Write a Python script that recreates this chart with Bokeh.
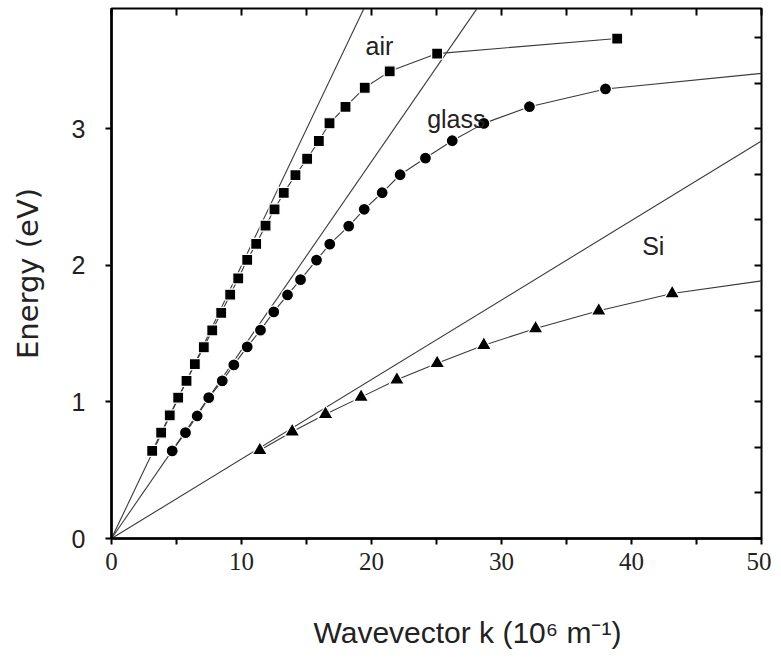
from bokeh.plotting import figure
from bokeh.models import (Range1d, LinearAxis, FixedTicker, CustomJSTickFormatter,
                          ColumnDataSource, Title)
from bokeh.core.properties import value
from bokeh.embed import file_html
from bokeh.resources import INLINE

# ---------------- data ----------------
# surface plasmon dispersion, metal / air (squares)
air_k = [3.13, 3.82, 4.48, 5.13, 5.77, 6.41, 7.10, 7.75, 8.44, 9.13, 9.75, 10.44,
         11.13, 11.85, 12.54, 13.25, 14.15, 15.05, 15.95, 16.77, 18.0, 19.48, 21.4,
         25.05, 38.9]
air_E = [0.641, 0.775, 0.902, 1.031, 1.154, 1.276, 1.40, 1.523, 1.652, 1.785, 1.904,
         2.04, 2.157, 2.29, 2.41, 2.53, 2.66, 2.78, 2.91, 3.04, 3.16, 3.30, 3.42,
         3.55, 3.66]

# metal / glass (circles)
glass_k = [4.67, 5.69, 6.59, 7.48, 8.52, 9.41, 10.44, 11.46, 12.48, 13.54, 14.54,
           15.77, 16.79, 18.25, 19.44, 20.82, 22.2, 24.15, 26.21, 28.64, 32.15, 38.0]
glass_E = [0.641, 0.775, 0.897, 1.031, 1.154, 1.271, 1.403, 1.525, 1.659, 1.783,
           1.895, 2.038, 2.155, 2.287, 2.41, 2.531, 2.663, 2.785, 2.912, 3.039,
           3.161, 3.291]
glass_tail_k = [38.0, 50.0]
glass_tail_E = [3.291, 3.405]

# metal / Si (triangles)
si_k = [11.41, 13.9, 16.46, 19.2, 21.95, 25.05, 28.64, 32.62, 37.48, 43.13]
si_E = [0.646, 0.782, 0.910, 1.035, 1.162, 1.283, 1.415, 1.537, 1.667, 1.793]
si_tail_k = [43.13, 50.0]
si_tail_E = [1.793, 1.886]

# light lines
air_line_k = [0, 19.4]
air_line_E = [0, 3.877]
glass_line_k = [0, 28.1]
glass_line_E = [0, 3.877]
si_line_k = [0, 50]
si_line_E = [0, 2.91]

# text labels
label_text = ["air", "glass", "Si"]
label_k = [19.54, 24.28, 40.82]
label_E = [3.608, 3.071, 2.143]

# ticks
x_major = [0, 10, 20, 30, 40, 50]
x_minor = [5, 15, 25, 35, 45]
top_ticks = [0, 5, 10, 15, 20, 25, 30, 35, 40, 45, 50]
y_major = [0, 1, 2, 3]
right_ticks = [0, 1/3, 2/3, 1, 4/3, 5/3, 2, 7/3, 8/3, 3, 10/3, 11/3]

x_title = "Wavevector k (10\u2076 m\u207b\u00b9)"
y_title = "Energy (eV)"

# ---------------- figure ----------------
p = figure(frame_width=650, frame_height=530,
           x_range=Range1d(0, 50), y_range=Range1d(0, 3.88),
           x_axis_type=None, y_axis_type=None,
           output_backend="svg", toolbar_location=None,
           min_border_left=111, min_border_top=8, min_border_right=10,
           min_border_bottom=0)
p.outline_line_color = "black"
p.outline_line_width = 2
p.background_fill_color = "white"
p.border_fill_color = "white"

FONT = "Liberation Sans"

xb = LinearAxis(ticker=FixedTicker(ticks=x_major, minor_ticks=x_minor))
xb.axis_line_width = 2.5
xb.major_tick_in = 0
xb.major_tick_out = 6
xb.minor_tick_in = 0
xb.minor_tick_out = 6
xb.major_tick_line_width = 2
xb.minor_tick_line_width = 2
xb.major_label_text_font = "Liberation Sans Narrow"
xb.major_label_text_font_size = "25px"
xb.major_label_text_color = "#222222"
xb.major_label_standoff = 8
p.add_layout(xb, "below")

title = Title(text=x_title, align="left", offset=202, standoff=82,
              text_font=FONT, text_font_size="30px", text_font_style="normal",
              text_color="#222222")
p.add_layout(title, "below")

yl = LinearAxis(ticker=FixedTicker(ticks=y_major, minor_ticks=[]), axis_label=y_title)
yl.axis_line_width = 2.5
yl.major_tick_in = 0
yl.major_tick_out = 6
yl.minor_tick_in = 0
yl.minor_tick_out = 0
yl.major_tick_line_width = 2
yl.major_label_text_font = FONT
yl.major_label_text_font_size = "25px"
yl.major_label_text_color = "#222222"
yl.major_label_standoff = 20
yl.axis_label_text_font = "DejaVu Sans"
yl.axis_label_text_font_size = "29px"
yl.axis_label_text_font_style = "normal"
yl.axis_label_text_color = "#222222"
yl.axis_label_standoff = 24
p.add_layout(yl, "left")

blank = CustomJSTickFormatter(code="return ''")

xt = LinearAxis(ticker=FixedTicker(ticks=top_ticks, minor_ticks=[]), formatter=blank)
xt.axis_line_color = None
xt.major_tick_in = 7
xt.major_tick_out = 0
xt.minor_tick_in = 0
xt.minor_tick_out = 0
xt.major_tick_line_width = 2
xt.major_label_standoff = 0
xt.major_label_text_font_size = "1px"
p.add_layout(xt, "above")

yr = LinearAxis(ticker=FixedTicker(ticks=right_ticks, minor_ticks=[]), formatter=blank)
yr.axis_line_color = None
yr.major_tick_in = 7
yr.major_tick_out = 0
yr.minor_tick_in = 0
yr.minor_tick_out = 0
yr.major_tick_line_width = 2
yr.major_label_standoff = 0
yr.major_label_text_font_size = "1px"
p.add_layout(yr, "right")

LINE = "#3a3a3a"
# light lines
p.line(air_line_k, air_line_E, line_color=LINE, line_width=1.1)
p.line(glass_line_k, glass_line_E, line_color=LINE, line_width=1.1)
p.line(si_line_k, si_line_E, line_color=LINE, line_width=1.1)

# dispersion curves
p.line(air_k, air_E, line_color=LINE, line_width=1.1)
p.line(glass_k, glass_E, line_color=LINE, line_width=1.1)
p.line(glass_tail_k, glass_tail_E, line_color=LINE, line_width=1.1)
p.line(si_k, si_E, line_color=LINE, line_width=1.1)
p.line(si_tail_k, si_tail_E, line_color=LINE, line_width=1.1)

p.scatter(air_k, air_E, marker="square", size=11, fill_color="black",
          line_color="white", line_width=1.2)
p.scatter(glass_k, glass_E, marker="circle", size=12, fill_color="black",
          line_color="white", line_width=1.2)
p.scatter(si_k, si_E, marker="triangle", size=15, fill_color="black",
          line_color="white", line_width=1.2)

src = ColumnDataSource(dict(x=label_k, y=label_E, t=label_text))
p.text(x="x", y="y", text="t", source=src, text_font=value(FONT),
       text_font_size="25px", text_color="#222222",
       text_align="left", text_baseline="alphabetic")

open("out.html", "w").write(file_html(p, INLINE))
